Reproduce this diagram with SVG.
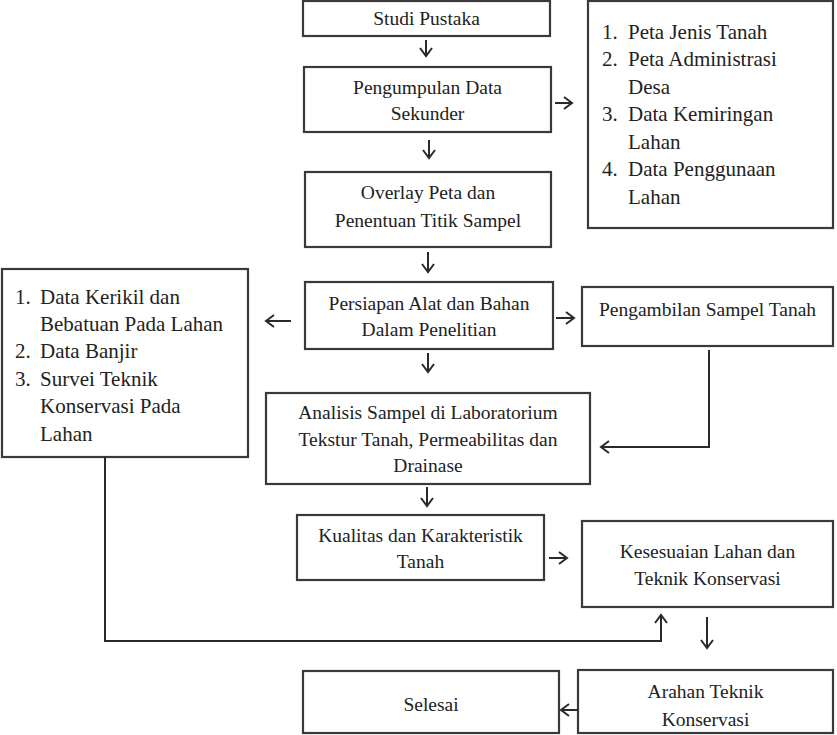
<svg xmlns="http://www.w3.org/2000/svg" width="837" height="735" viewBox="0 0 837 735">
<defs>
<marker id="ah" markerUnits="userSpaceOnUse" markerWidth="14" markerHeight="14" refX="10" refY="7" orient="auto">
<path d="M2,1 L10,7 L2,13" fill="none" stroke="#2a2a2a" stroke-width="2"/>
</marker>
</defs>
<style>
.box{fill:#fff;stroke:#3a3a3a;stroke-width:2.2}
.t{font-family:"Liberation Serif","Times New Roman",serif;font-size:19.5px;fill:#222;text-anchor:middle}
.l{font-family:"Liberation Serif","Times New Roman",serif;font-size:21px;fill:#222}
.c{fill:none;stroke:#2a2a2a;stroke-width:2;marker-end:url(#ah)}
</style>
<rect width="837" height="735" fill="#fff"/>
<g id="studi"><rect class="box" x="303" y="1" width="247" height="35"/><text class="t" x="426.5" y="25">Studi Pustaka</text></g>
<g id="pengumpulan"><rect class="box" x="304" y="67" width="247" height="65"/><text class="t" x="427.5" y="94">Pengumpulan Data</text><text class="t" x="427.5" y="120">Sekunder</text></g>
<g id="overlay"><rect class="box" x="305" y="172" width="246" height="75"/><text class="t" x="428" y="199">Overlay Peta dan</text><text class="t" x="428" y="227">Penentuan Titik Sampel</text></g>
<g id="datasekunder"><rect class="box" x="588" y="1" width="245" height="227"/>
<text class="l" x="602" y="39">1.</text><text class="l" x="628" y="39">Peta Jenis Tanah</text>
<text class="l" x="602" y="66">2.</text><text class="l" x="628" y="66">Peta Administrasi</text>
<text class="l" x="628" y="94">Desa</text>
<text class="l" x="602" y="121">3.</text><text class="l" x="628" y="121">Data Kemiringan</text>
<text class="l" x="628" y="149">Lahan</text>
<text class="l" x="602" y="176">4.</text><text class="l" x="628" y="176">Data Penggunaan</text>
<text class="l" x="628" y="204">Lahan</text></g>
<g id="datalapangan"><rect class="box" x="2" y="269" width="246" height="188"/>
<text class="l" x="15" y="304">1.</text><text class="l" x="40" y="304">Data Kerikil dan</text>
<text class="l" x="40" y="331">Bebatuan Pada Lahan</text>
<text class="l" x="15" y="358">2.</text><text class="l" x="40" y="358">Data Banjir</text>
<text class="l" x="15" y="386">3.</text><text class="l" x="40" y="386">Survei Teknik</text>
<text class="l" x="40" y="413">Konservasi Pada</text>
<text class="l" x="40" y="441">Lahan</text></g>
<g id="persiapan"><rect class="box" x="305" y="282" width="248" height="67"/><text class="t" x="429" y="310">Persiapan Alat dan Bahan</text><text class="t" x="429" y="336">Dalam Penelitian</text></g>
<g id="pengambilan"><rect class="box" x="582" y="287" width="251" height="59"/><text class="t" x="707.5" y="316">Pengambilan Sampel Tanah</text></g>
<g id="analisis"><rect class="box" x="266" y="393" width="324" height="91"/><text class="t" x="428" y="419">Analisis Sampel di Laboratorium</text><text class="t" x="428" y="446">Tekstur Tanah, Permeabilitas dan</text><text class="t" x="428" y="472">Drainase</text></g>
<g id="kualitas"><rect class="box" x="297" y="515" width="247" height="65"/><text class="t" x="420.5" y="542">Kualitas dan Karakteristik</text><text class="t" x="420.5" y="568">Tanah</text></g>
<g id="kesesuaian"><rect class="box" x="582" y="521" width="251" height="86"/><text class="t" x="707.5" y="558">Kesesuaian Lahan dan</text><text class="t" x="707.5" y="585">Teknik Konservasi</text></g>
<g id="arahan"><rect class="box" x="578" y="670" width="255" height="63"/><text class="t" x="705.5" y="698">Arahan Teknik</text><text class="t" x="705.5" y="726">Konservasi</text></g>
<g id="selesai"><rect class="box" x="303" y="671" width="256" height="62"/><text class="t" x="431" y="711">Selesai</text></g>
<g id="connectors">
<path class="c" d="M426,40 V56"/>
<path class="c" d="M555,103 H572"/>
<path class="c" d="M429,140 V158"/>
<path class="c" d="M428,252 V272"/>
<path class="c" d="M291,321 H266"/>
<path class="c" d="M556,318 H574"/>
<path class="c" d="M428,353 V372"/>
<path class="c" d="M709,350 V447 H601"/>
<path class="c" d="M427,487 V506"/>
<path class="c" d="M549,558 H567"/>
<path class="c" d="M105,457 V641 H661 V615"/>
<path class="c" d="M707,617 V648"/>
<path class="c" d="M578,710 H561"/>
</g>
</svg>
